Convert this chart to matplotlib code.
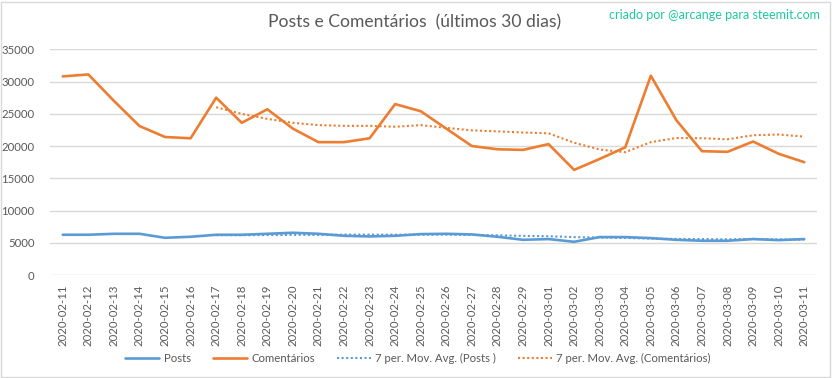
import matplotlib
matplotlib.use("Agg")
import matplotlib.pyplot as plt
import pandas as pd
from matplotlib.patches import Rectangle

plt.rcParams['font.family'] = ['Lato', 'DejaVu Sans']

dates = ["2020-02-11", "2020-02-12", "2020-02-13", "2020-02-14", "2020-02-15",
         "2020-02-16", "2020-02-17", "2020-02-18", "2020-02-19", "2020-02-20",
         "2020-02-21", "2020-02-22", "2020-02-23", "2020-02-24", "2020-02-25",
         "2020-02-26", "2020-02-27", "2020-02-28", "2020-02-29", "2020-03-01",
         "2020-03-02", "2020-03-03", "2020-03-04", "2020-03-05", "2020-03-06",
         "2020-03-07", "2020-03-08", "2020-03-09", "2020-03-10", "2020-03-11"]

posts = [6240, 6240, 6390, 6390, 5770, 5930, 6240, 6240, 6390, 6550,
         6390, 6080, 5980, 6080, 6340, 6390, 6290, 5930, 5460, 5570,
         5150, 5880, 5880, 5720, 5460, 5310, 5310, 5570, 5410, 5570]

comentarios = [30800, 31100, 27000, 23100, 21400, 21200, 27500, 23600, 25700, 22700,
               20600, 20600, 21200, 26500, 25400, 22700, 20000, 19500, 19400, 20300,
               16300, 18000, 19800, 30900, 24000, 19200, 19100, 20700, 18800, 17500]

yticks = [0, 5000, 10000, 15000, 20000, 25000, 30000, 35000]

BLUE = '#5B9BD5'
ORANGE = '#ED7D31'
GRAY = '#595959'
GRID = '#D9D9D9'

df = pd.DataFrame({'posts': posts, 'com': comentarios}, index=dates)
ma_posts = df['posts'].rolling(7).mean()
ma_com = df['com'].rolling(7).mean()

fig = plt.figure(figsize=(8.32, 3.78), dpi=100)
ax = fig.add_axes([50/832, 1-275/378, 767/832, (275-49.3)/378])

x = list(range(len(dates)))
ax.plot(x, posts, color=BLUE, lw=1.9, label='Posts', solid_capstyle='round')
ax.plot(x, comentarios, color=ORANGE, lw=1.9, label='Comentários', solid_capstyle='round')
ax.plot(x, ma_posts, color=BLUE, lw=1.5, ls=(0, (1, 1.2)), label='7 per. Mov. Avg. (Posts )')
ax.plot(x, ma_com, color=ORANGE, lw=1.5, ls=(0, (1, 1.2)), label='7 per. Mov. Avg. (Comentários)')

ax.set_xlim(-0.5, len(dates) - 0.5)
ax.set_ylim(0, 35000)
ax.set_yticks(yticks)
ax.set_yticklabels([str(v) for v in yticks])
ax.set_xticks(x)
ax.set_xticklabels(dates, rotation=90)
ax.grid(axis='y', color=GRID, lw=1)
ax.set_axisbelow(True)
for s in ax.spines.values():
    s.set_visible(False)
ax.tick_params(axis='both', length=0, colors=GRAY, labelsize=8.2)
ax.tick_params(axis='y', pad=11)
ax.tick_params(axis='x', pad=7)

fig.text(415/832, 1-22/378, 'Posts e Comentários  (últimos 30 dias)', ha='center', va='center',
         fontsize=12.6, color=GRAY)
fig.text(820/832, 1-15/378, 'criado por @arcange para steemit.com', ha='right', va='center',
         fontsize=9.0, color='#1FC8A0')

leg = fig.legend(loc='center', bbox_to_anchor=(418/832, 1-358/378), ncol=4, frameon=False,
                 fontsize=8.2, handlelength=3.0, columnspacing=1.9, handletextpad=0.4)
for t in leg.get_texts():
    t.set_color(GRAY)

fig.patches.append(Rectangle((0.5/832, 1.5/378), 829/832, 375/378, transform=fig.transFigure,
                             fill=False, edgecolor=GRID, lw=1))

fig.savefig('out.png', dpi=100, facecolor='white')
